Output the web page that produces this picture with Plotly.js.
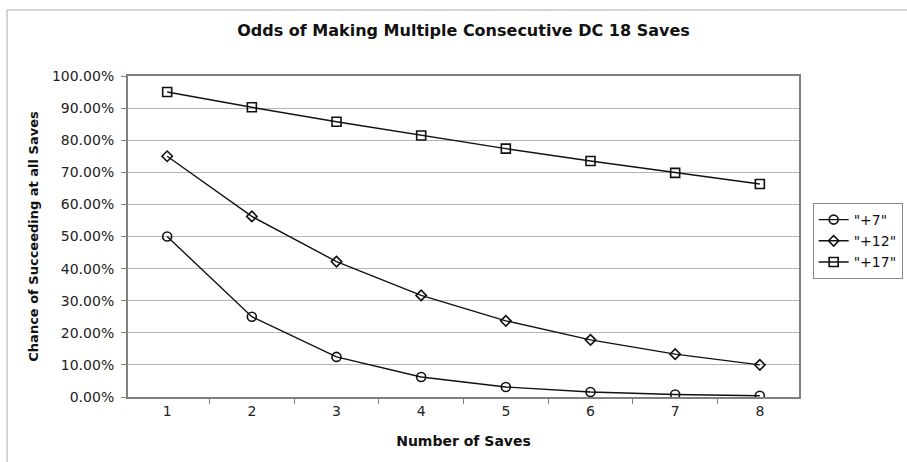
<!DOCTYPE html>
<html>
<head>
<meta charset="utf-8">
<script src="https://cdn.plot.ly/plotly-3.0.1.min.js"></script>
<style>html,body{margin:0;padding:0;background:#fff;}#chart{width:907px;height:462px;}</style>
</head>
<body>
<div id="chart"></div>
<script>
var saves = ["1","2","3","4","5","6","7","8"];
var plus7 = [0.5, 0.25, 0.125, 0.0625, 0.03125, 0.0156, 0.0078, 0.0039];
var plus12 = [0.75, 0.5625, 0.4219, 0.3164, 0.2373, 0.1780, 0.1335, 0.1001];
var plus17 = [0.95, 0.9025, 0.8574, 0.8145, 0.7738, 0.7351, 0.6983, 0.6634];
var seriesNames = ['"+7"', '"+12"', '"+17"'];

var FONT = 'DejaVu Sans, Liberation Sans, Arial, sans-serif';
var lineStyle = {color: '#111', width: 1.4};
var traces = [
  {x: saves, y: plus7, name: seriesNames[0], mode: 'lines+markers', line: lineStyle,
   marker: {symbol: 'circle-open', size: 9, color: '#111', line: {width: 1.6, color: '#111'}}},
  {x: saves, y: plus12, name: seriesNames[1], mode: 'lines+markers', line: lineStyle,
   marker: {symbol: 'diamond-open', size: 8, color: '#111', line: {width: 1.6, color: '#111'}}},
  {x: saves, y: plus17, name: seriesNames[2], mode: 'lines+markers', line: lineStyle,
   marker: {symbol: 'square-open', size: 9, color: '#111', line: {width: 1.6, color: '#111'}}}
];

var layout = {
  width: 907, height: 462,
  margin: {l: 128, r: 108, t: 76, b: 65},
  paper_bgcolor: '#fff', plot_bgcolor: '#fff',
  font: {family: FONT, color: '#222', size: 14},
  title: {text: '<b>Odds of Making Multiple Consecutive DC 18 Saves</b>', x: 0.5, xref: 'paper', y: 0.935, yanchor: 'middle',
          font: {size: 16, color: '#111', family: FONT}},
  xaxis: {
    type: 'category', tickson: 'boundaries', ticks: 'outside', ticklen: 5, tickcolor: '#808080',
    showline: true, linecolor: '#808080', linewidth: 2, mirror: true,
    showgrid: false, zeroline: false, automargin: false,
    title: {text: '<b>Number of Saves</b>', font: {size: 14, color: '#111'}, standoff: 18},
    tickfont: {size: 14}
  },
  yaxis: {
    range: [0, 1], dtick: 0.1, tickformat: '.2%', ticks: 'outside', ticklen: 5, tickcolor: '#808080',
    showline: true, linecolor: '#808080', linewidth: 2, mirror: true,
    showgrid: true, gridcolor: '#b4b4b4', gridwidth: 1, zeroline: false, automargin: false,
    ticklabelstandoff: 4,
    title: {text: '<b>Chance of Succeeding at all Saves</b>', font: {size: 13, color: '#111'}, standoff: 10},
    tickfont: {size: 14}
  },
  legend: {
    xref: 'container', yref: 'container',
    x: 0.896, y: 0.5606, xanchor: 'left', yanchor: 'top',
    bordercolor: '#888', borderwidth: 1, bgcolor: '#fff',
    font: {size: 14, color: '#111'}, tracegroupgap: 0, itemwidth: 30
  },
  showlegend: true,
  shapes: [
    {type: 'line', xref: 'paper', yref: 'paper', x0: -0.1803, x1: 1.2, y0: 1.2056, y1: 1.2056, line: {color: '#aaa', width: 1}},
    {type: 'line', xref: 'paper', yref: 'paper', x0: -0.1803, x1: -0.1803, y0: 1.2056, y1: -0.21, line: {color: '#aaa', width: 1}}
  ]
};

Plotly.newPlot('chart', traces, layout, {displayModeBar: false, staticPlot: true});
</script>
</body>
</html>
